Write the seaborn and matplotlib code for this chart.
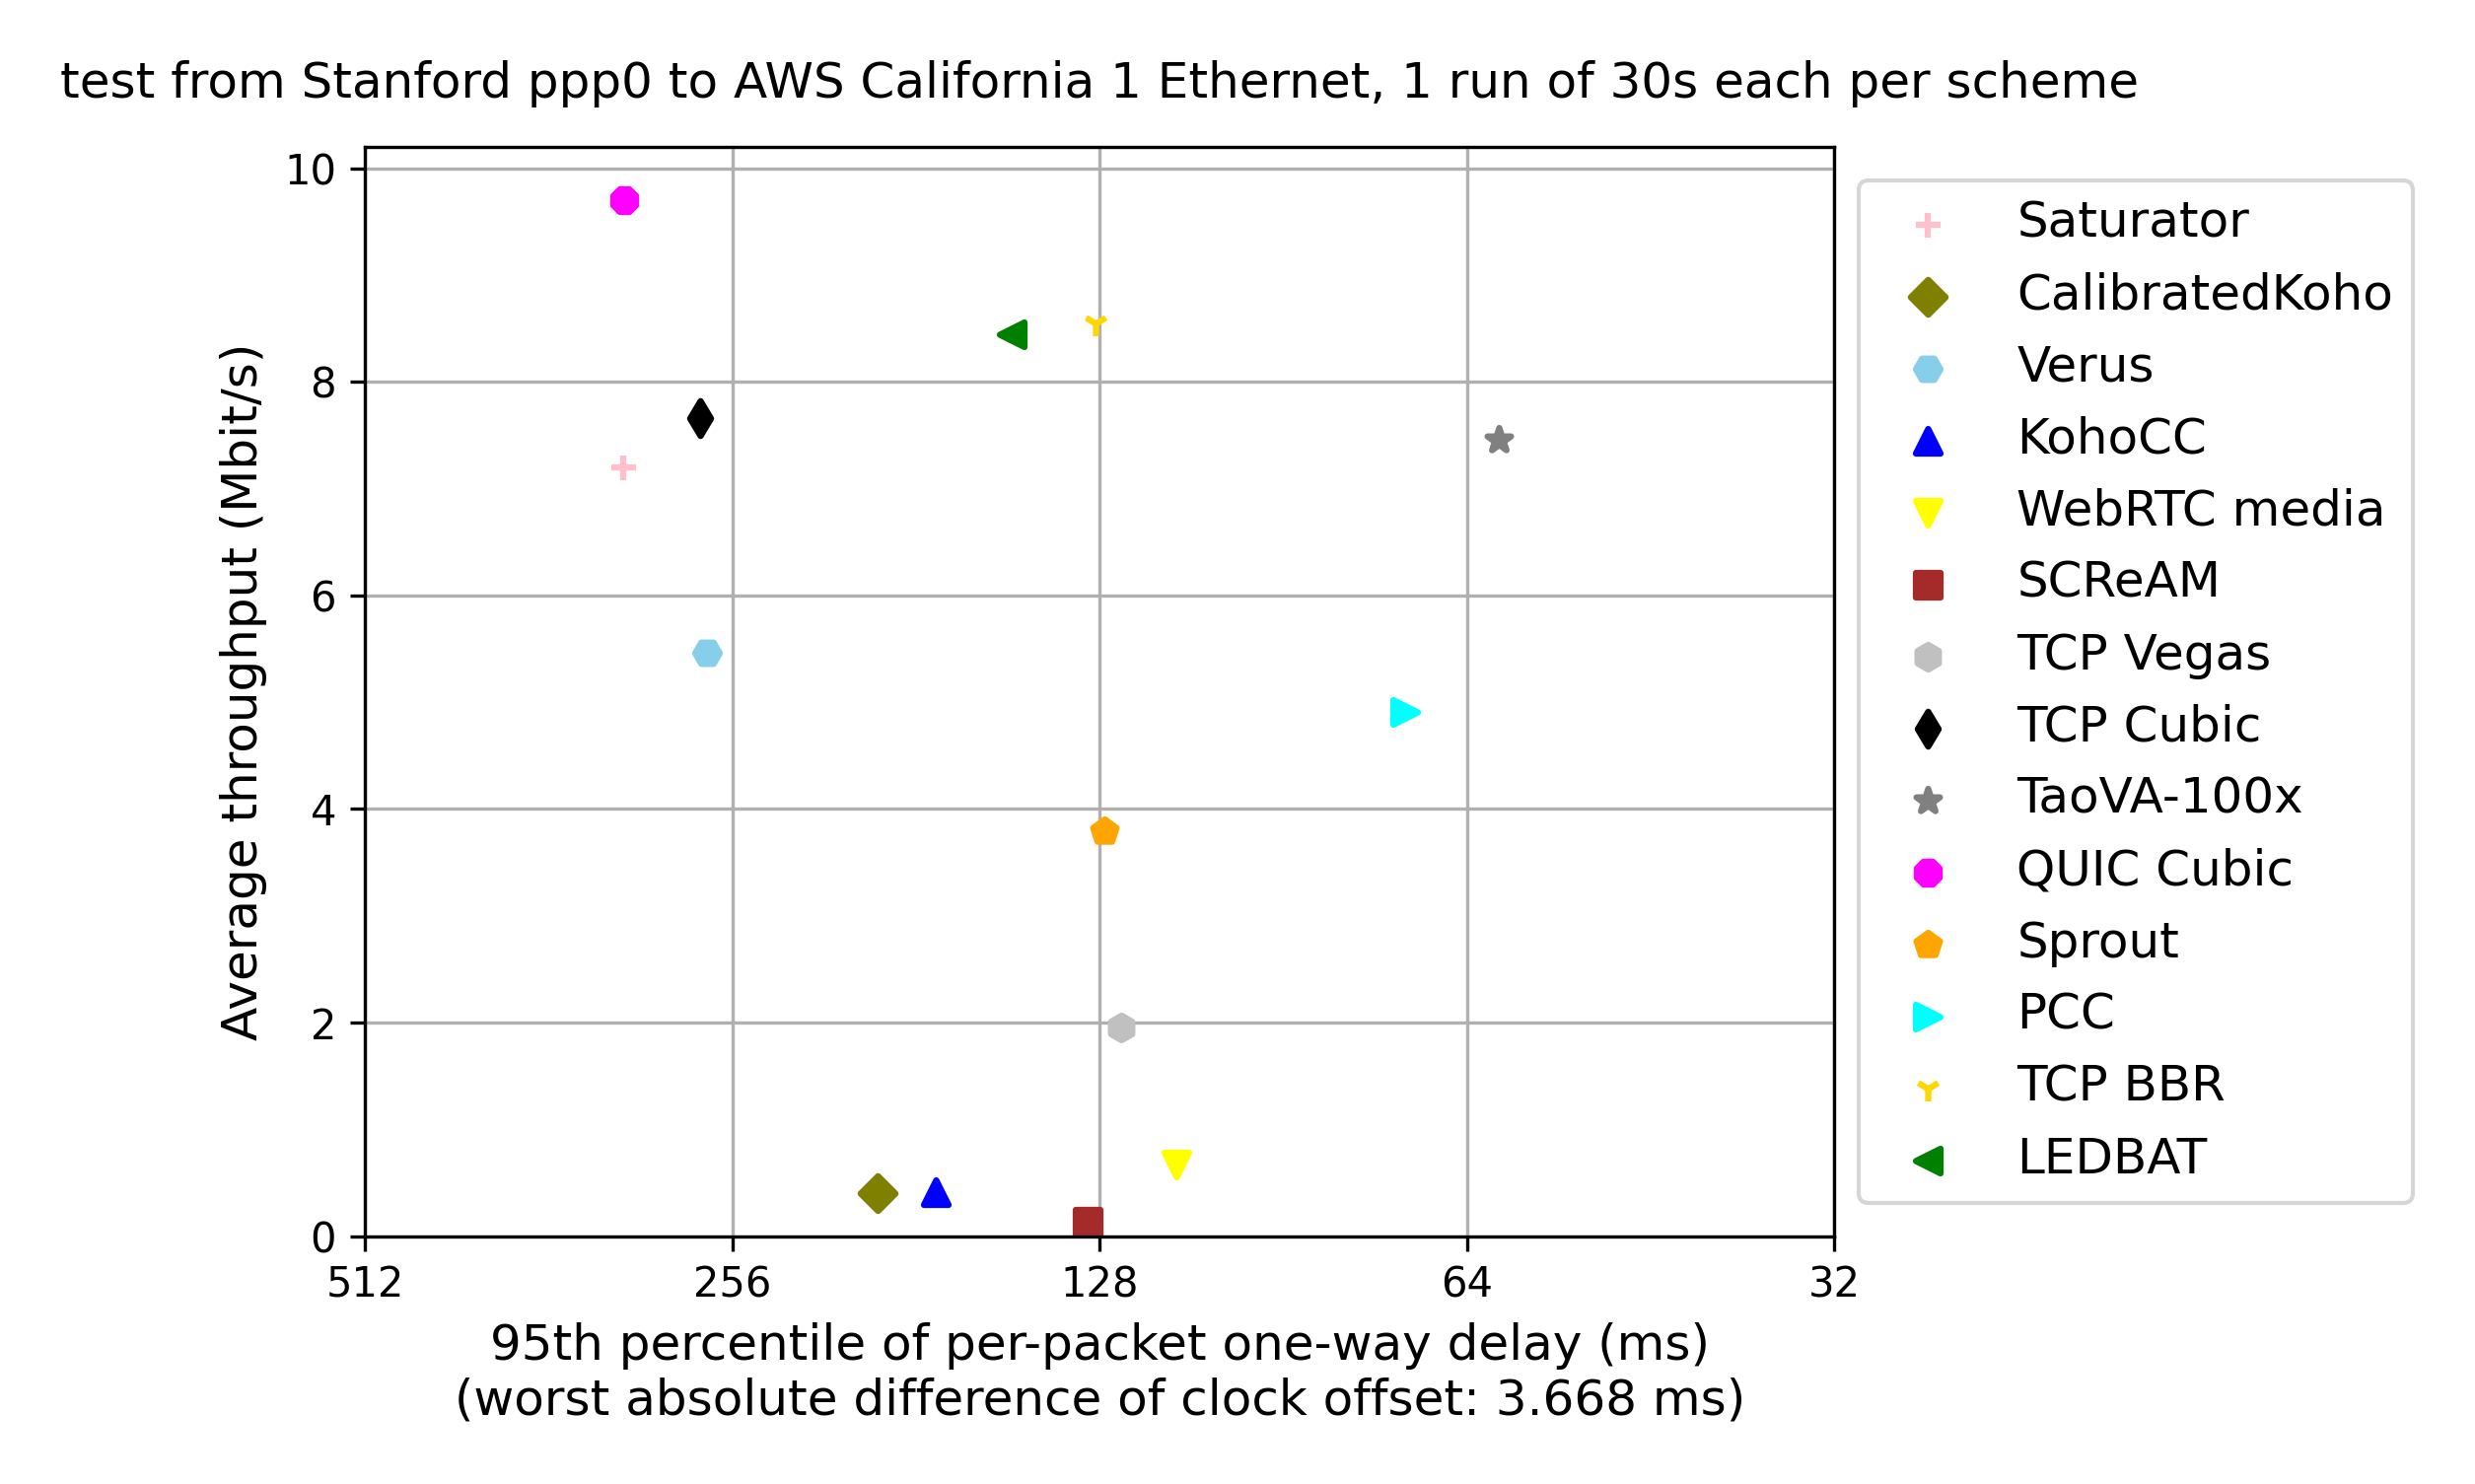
import numpy as np
import pandas as pd
import matplotlib
matplotlib.use("Agg")
import matplotlib.pyplot as plt
from matplotlib.ticker import ScalarFormatter, NullLocator
import seaborn as sns

# data
schemes = ["Saturator", "CalibratedKoho", "Verus", "KohoCC", "WebRTC media",
           "SCReAM", "TCP Vegas", "TCP Cubic", "TaoVA-100x", "QUIC Cubic",
           "Sprout", "PCC", "TCP BBR", "LEDBAT"]
delay = [314.7, 194.7, 268.8, 174.4, 110.7, 130.9, 123.0, 271.9, 60.3, 313.9,
         127.0, 71.9, 129.0, 151.1]
tput = [7.20, 0.40, 5.46, 0.41, 0.67, 0.13, 1.95, 7.66, 7.46, 9.70,
        3.79, 4.91, 8.55, 8.45]
colors = ["pink", "olive", "skyblue", "blue", "yellow", "brown", "silver",
          "black", "gray", "magenta", "orange", "cyan", "gold", "green"]
markers = ["+", "D", "H", "^", "v", "s", "h", "d", "*", "8", "p", ">", "1", "<"]
xticks = [512, 256, 128, 64, 32]

df = pd.DataFrame({"scheme": schemes, "delay": delay, "tput": tput})

fig = plt.figure(figsize=(2510 / 300, 1505 / 300), dpi=300)
ax = fig.add_axes([0.1475, 0.1671, 0.7412 - 0.1475, 0.9008 - 0.1671])

for name, c, m in zip(schemes, colors, markers):
    sub = df[df["scheme"] == name]
    sns.scatterplot(data=sub, x="delay", y="tput", ax=ax, color=c, marker=m,
                    s=36, edgecolor=c, linewidth=1.5, label=name, legend=False)

ax.set_xscale("log", base=2)
ax.set_xticks(xticks)
ax.xaxis.set_major_formatter(ScalarFormatter())
ax.xaxis.set_minor_locator(NullLocator())
ax.set_xlim(512, 32)
ax.set_ylim(0, 10.2)
ax.grid(True)
ax.set_axisbelow(True)

ax.set_xlabel("95th percentile of per-packet one-way delay (ms)\n"
              "(worst absolute difference of clock offset: 3.668 ms)", fontsize=12)
ax.set_ylabel("Average throughput (Mbit/s)", fontsize=12)
ax.set_title("test from Stanford ppp0 to AWS California 1 Ethernet, "
             "1 run of 30s each per scheme", fontsize=12, pad=12)

ax.legend(scatterpoints=1, bbox_to_anchor=(1, 0.5), loc="center left", fontsize=12)

fig.savefig("out.png", dpi=300)
